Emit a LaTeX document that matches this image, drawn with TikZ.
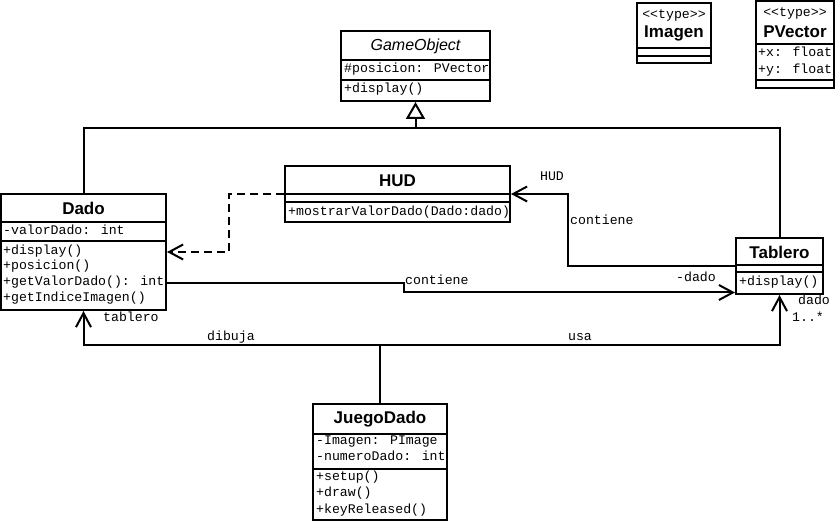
\documentclass[tikz,border=0pt]{standalone}
\usepackage{fontspec}
\setmainfont{Liberation Sans}
\newfontfamily\monof{Liberation Mono}
\usetikzlibrary{arrows.meta,fit}
\begin{document}
\begin{tikzpicture}[x=1pt,y=-1pt]
\tikzset{
  ln/.style={line width=2pt},
  cls/.style={draw, ln, inner sep=0pt, fit=#1},
  ttl/.style={font=\fontsize{17}{20}\selectfont\bfseries, inner sep=0pt},
  ttlit/.style={font=\fontsize{16}{19}\selectfont\itshape, inner sep=0pt},
  stereo/.style={font=\monof\fontsize{13.2}{15}\selectfont, inner sep=0pt},
  mono/.style={font=\monof\fontsize{13.2}{15}\selectfont, inner sep=0pt, text height=9pt, text depth=3pt},
  mem/.style={mono, anchor=west},
  barb/.style={ln, -{Straight Barb[length=14pt,width=15pt]}},
  gen/.style={ln, -{Triangle[open,length=17pt,width=19pt,fill=white]}},
  dep/.style={dash pattern=on 8pt off 5pt},
}
\useasboundingbox (0,0) rectangle (836,521);

% ---------- GameObject ----------
\path (341,31) coordinate (go-nw) (490,101) coordinate (go-se);
\node[cls={(go-nw)(go-se)}] (go) {};
\draw[ln] (go.west |- 0,60) -- (go.east |- 0,60);
\draw[ln] (go.west |- 0,80) -- (go.east |- 0,80);
\node[ttlit] (go-t) at (go.north |- 0,46.5) {GameObject};
\node[mem] (go-a1) at (344,69.5) {\#posicion: PVector};
\node[mem] (go-m1) at (344,89.5) {+display()};

% ---------- Imagen ----------
\path (637,3) coordinate (im-nw) (711,63) coordinate (im-se);
\node[cls={(im-nw)(im-se)}] (im) {};
\draw[ln] (im.west |- 0,48) -- (im.east |- 0,48);
\draw[ln] (im.west |- 0,56) -- (im.east |- 0,56);
\node[stereo] (im-s) at (im.north |- 0,15) {<<type>>};
\node[ttl] (im-t) at (im.north |- 0,33) {Imagen};

% ---------- PVector ----------
\path (756,1) coordinate (pv-nw) (834,88) coordinate (pv-se);
\node[cls={(pv-nw)(pv-se)}] (pv) {};
\draw[ln] (pv.west |- 0,44) -- (pv.east |- 0,44);
\draw[ln] (pv.west |- 0,80) -- (pv.east |- 0,80);
\node[stereo] (pv-s) at (pv.north |- 0,13) {<<type>>};
\node[ttl] (pv-t) at (pv.north |- 0,31.5) {PVector};
\node[mem] (pv-a1) at (758,54) {+x: float};
\node[mem] (pv-a2) at (758,71) {+y: float};

% ---------- Dado ----------
\path (1,194) coordinate (dado-nw) (166,310) coordinate (dado-se);
\node[cls={(dado-nw)(dado-se)}] (dado) {};
\draw[ln] (dado.west |- 0,222) -- (dado.east |- 0,222);
\draw[ln] (dado.west |- 0,241) -- (dado.east |- 0,241);
\node[ttl] (dado-t) at (dado.north |- 0,208) {Dado};
\node[mem] (dado-a1) at (3,231.5) {-valorDado: int};
\node[mem] (dado-m1) at (3,251.5) {+display()};
\node[mem] (dado-m2) at (3,267) {+posicion()};
\node[mem] (dado-m3) at (3,283) {+getValorDado(): int};
\node[mem] (dado-m4) at (3,298.5) {+getIndiceImagen()};

% ---------- HUD ----------
\path (285,166) coordinate (hud-nw) (510,222) coordinate (hud-se);
\node[cls={(hud-nw)(hud-se)}] (hud) {};
\draw[ln] (hud.west |- 0,194) -- (hud.east |- 0,194);
\draw[ln] (hud.west |- 0,202) -- (hud.east |- 0,202);
\node[ttl] (hud-t) at (hud.north |- 0,180.5) {HUD};
\node[mem] (hud-m1) at (288,212.5) {+mostrarValorDado(Dado:dado)};

% ---------- Tablero ----------
\path (736,238) coordinate (tab-nw) (823,294) coordinate (tab-se);
\node[cls={(tab-nw)(tab-se)}] (tab) {};
\draw[ln] (tab.west |- 0,265) -- (tab.east |- 0,265);
\draw[ln] (tab.west |- 0,272) -- (tab.east |- 0,272);
\node[ttl] (tab-t) at (tab.north |- 0,252) {Tablero};
\node[mem] (tab-m1) at (739,283) {+display()};

% ---------- JuegoDado ----------
\path (313,404) coordinate (jd-nw) (447,520) coordinate (jd-se);
\node[cls={(jd-nw)(jd-se)}] (jd) {};
\draw[ln] (jd.west |- 0,434) -- (jd.east |- 0,434);
\draw[ln] (jd.west |- 0,469) -- (jd.east |- 0,469);
\node[ttl] (jd-t) at (jd.north |- 0,419) {JuegoDado};
\node[mem] (jd-a1) at (316,441.5) {-Imagen: PImage};
\node[mem] (jd-a2) at (316,457.5) {-numeroDado: int};
\node[mem] (jd-m1) at (316,477) {+setup()};
\node[mem] (jd-m2) at (316,493.5) {+draw()};
\node[mem] (jd-m3) at (316,510) {+keyReleased()};

% ---------- generalization ----------
\coordinate (gjoin) at (go.south |- 0,128);
\draw[ln] (dado.north) -- (dado.north |- gjoin) -- (tab.north |- gjoin) -- (tab.north);
\draw[gen] (gjoin) -- (go.south);

% ---------- dependency HUD -> Dado ----------
\coordinate (dashbend) at (229,222);
\draw[barb, dep] (hud.west) -| (dashbend) |- (dado.east);

% ---------- Tablero -> HUD ----------
\coordinate (hudbend) at (568,230);
\draw[barb] (tab.west) -| (hudbend) |- (hud.east);
\node[mono] (l-hud) at (552,178) {HUD};
\node[mono, anchor=west] (l-cont1) at (570,222) {contiene};

% ---------- Dado -> Tablero ----------
\coordinate (cbend) at (404,288);
\draw[barb] (dado.east |- 0,283.5) -| (cbend) |- (tab.west |- 0,292.5);
\node[mono, anchor=west] (l-cont2) at (405,282) {contiene};
\node[mono] (l-dado1) at (696,278.5) {-dado};

% ---------- JuegoDado -> Dado / Tablero ----------
\coordinate (jjoin) at (jd.north |- 0,345);
\draw[ln] (jd.north) -- (jjoin);
\draw[barb] (jjoin) -| (dado.south);
\draw[barb] (jjoin) -| (tab.south);
\node[mono, anchor=west] (l-tab) at (103,319) {tablero};
\node[mono] (l-dib) at (231,338) {dibuja};
\node[mono] (l-usa) at (580,338) {usa};
\node[mono, anchor=west] (l-dado2) at (798,302) {dado};
\node[mono, anchor=west] (l-mult) at (792,319) {1..*};
\end{tikzpicture}
\end{document}
